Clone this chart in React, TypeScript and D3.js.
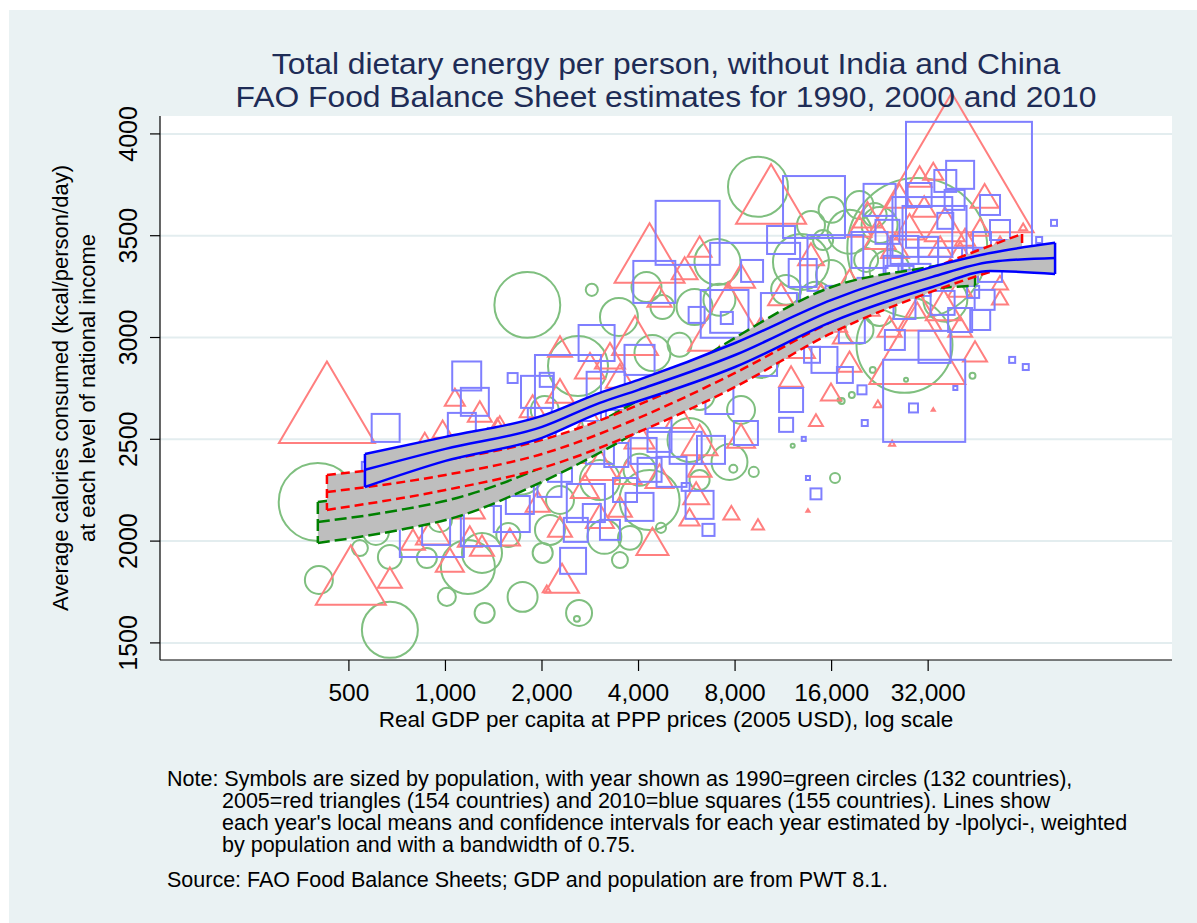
import React from "react";
import * as d3 from "d3";

// ---- data: [GDP per capita (2005 USD, PPP), kcal/person/day, population (millions)] ----
const circles1990: [number, number, number][] = [
  [29600, 3440, 253], [27000, 2964, 119], [400, 2192, 79], [671, 1564, 40.5], [403, 1809, 10.1],
  [607, 2045, 8.7], [671, 1922, 7.4], [1010, 1726, 4.2], [1325, 1647, 5.2], [1740, 1726, 11.6],
  [1175, 1873, 37.7], [875, 1917, 5.2], [1300, 1942, 20.7], [2010, 1942, 5.2], [1800, 3160, 56],
  [2590, 2860, 46.5], [9430, 3740, 46.5], [2860, 3234, 1.9], [3475, 3101, 18.6], [4235, 3248, 11.6],
  [4750, 3150, 7.4], [5980, 3150, 16.7], [7050, 3371, 27.3], [4420, 2924, 16.7], [7685, 2389, 16.7],
  [9150, 2340, 1.3], [7900, 2355, 0.83], [4330, 2202, 46.5], [3130, 2021, 14.9], [3760, 2016, 7.4],
  [4700, 2065, 1.3], [2610, 1647, 8.7], [2570, 1618, 0.46], [2118, 2055, 11.6], [16000, 3627, 8.7],
  [19550, 3651, 10.1], [18200, 3519, 25], [21800, 3602, 7.4], [15050, 3479, 5.2], [12840, 3371, 40.5],
  [11540, 3234, 11.6], [15930, 3307, 11.6], [20500, 3381, 7.4], [16940, 2693, 0.21], [18500, 2718, 0.46],
  [21500, 2841, 0.46], [27300, 2792, 0.21], [44000, 2812, 0.46], [17200, 2688, 0.46], [12100, 2468, 0.21],
  [16400, 2310, 1.3], [1570, 2030, 7.4], [2276, 2202, 10.1], [3032, 2300, 20.7], [4029, 2350, 13.2],
  [5768, 2497, 25], [6200, 2718, 11.6], [8350, 2644, 10.1], [9640, 2890, 16.7], [11130, 3037, 11.6],
  [5370, 2964, 7.4], [1706, 2350, 32.3], [1191, 2300, 11.6], [2040, 2644, 10.1], [7150, 3185, 13.2],
  [3032, 2595, 16.7], [961, 2104, 7.4], [541, 1966, 3.3], [24260, 3332, 20.7], [36200, 3185, 25],
  [22580, 3135, 13.2], [19550, 3037, 10.1], [14300, 3185, 16.7], [6200, 2300, 5.2], [3500, 1907, 3.3],
  [13800, 3553, 10.1], [22580, 3553, 16.7],
];

const triangles2000: [number, number, number][] = [
  [427, 2615, 96], [507, 1785, 51], [671, 1804, 6], [37900, 3745, 280], [10360, 3656, 51],
  [4330, 3366, 51], [29600, 2905, 96], [4420, 1976, 10.7], [2310, 1794, 12], [6050, 2217, 7],
  [7790, 2128, 2.7], [9430, 2074, 1.5], [14300, 2585, 2], [22300, 2669, 0.67], [24700, 2477, 0.37],
  [33200, 2644, 0.1], [13500, 2148, 0.1], [63300, 3538, 0.67], [980, 2536, 4.2], [862, 2487, 2.7],
  [1870, 2644, 7], [1450, 2575, 1.04], [914, 2030, 12], [792, 1991, 6], [1032, 1888, 8.2],
  [1300, 1962, 6], [1940, 2178, 6], [2070, 1760, 0.67], [3700, 2320, 8.2], [7610, 3047, 67],
  [3900, 2978, 22], [5570, 3322, 7], [20700, 3582, 9.4], [30100, 3774, 6], [33200, 3803, 4.2],
  [28000, 3523, 9.4], [11130, 3194, 7], [3258, 2890, 9.4], [13800, 3391, 7], [17350, 2998, 4.2],
  [30100, 3096, 20], [35800, 3135, 13.5], [24260, 3037, 6], [9640, 3013, 10.7], [12840, 2939, 8.2],
  [18200, 2865, 6], [7150, 2890, 6], [2822, 2841, 9.4], [2276, 2939, 6], [1477, 2546, 6],
  [1706, 2423, 9.4], [2445, 2423, 8.2], [3032, 2350, 13.5], [4029, 2497, 9.4], [5370, 2595, 8.2],
  [6200, 2472, 13.5], [8350, 2497, 8.2], [3032, 2104, 8.2], [2276, 2055, 6], [1191, 2153, 9.4],
  [1477, 2251, 4.2], [721, 2104, 4.2], [541, 2202, 2.7], [46470, 3528, 4.2], [53600, 3430, 6],
  [40260, 3381, 10.7], [48000, 3676, 8.2], [26060, 3676, 8.2], [22580, 3479, 10.7], [18200, 3234, 13.5],
  [14830, 3185, 8.2], [6200, 3430, 6], [8350, 3283, 8.2], [4650, 3185, 6], [11960, 2792, 6],
  [15930, 2718, 4.2], [4650, 2767, 6], [3500, 2693, 6], [40260, 3037, 6], [53600, 3185, 2.7],
  [44800, 2915, 6], [36100, 3528, 16.7],
  [1070, 2693, 4.2], [1280, 2620, 6], [2276, 2718, 8.2], [2822, 2595, 6], [3500, 2792, 8.2],
  [4330, 2644, 7], [1969, 2350, 6], [2720, 2251, 8.2], [3500, 2153, 6], [4650, 2300, 8.2],
  [6200, 2350, 6], [5770, 2104, 4.2], [1588, 2006, 4.2], [1191, 2006, 6], [894, 2153, 4.2],
  [1070, 2251, 6], [19550, 3528, 6], [25200, 3430, 8.2], [31100, 3627, 6], [34880, 3430, 6],
  [41700, 3479, 4.2], [27000, 3258, 6], [21000, 3135, 4.2], [16400, 3062, 6], [13800, 3135, 4.2],
  [40260, 3234, 6], [53600, 3258, 2.7],
];

const squares2010: [number, number, number][] = [
  [42900, 3750, 306], [31100, 2689, 130], [14100, 3641, 74], [5690, 3514, 79], [1165, 2811, 16.2],
  [651, 2556, 15.1], [1620, 2801, 1.9], [1235, 2684, 15.1], [1930, 2733, 19.8], [2410, 2752, 84],
  [907, 2079, 79], [935, 2050, 15.1], [1290, 2074, 31], [1610, 2133, 25], [2500, 1903, 13],
  [2550, 2055, 11.1], [4029, 2168, 15.1], [6610, 2055, 2.8], [2860, 2138, 6.25], [5070, 2340, 17.4],
  [8650, 2531, 11.1], [11540, 2571, 3.8], [28800, 2654, 1.56], [19900, 2743, 1.56], [20300, 2580, 0.69],
  [14300, 2232, 2.3], [13500, 2310, 0.31], [13100, 2502, 0.31], [38900, 2752, 0.31], [58500, 2890, 0.69],
  [64500, 2855, 0.69], [79000, 3563, 0.69], [33500, 2954, 19.8], [36200, 3769, 9.3], [30700, 3543, 69],
  [9240, 3244, 156], [4480, 3273, 34], [9040, 3327, 9.3], [6070, 3111, 4.9], [7540, 3096, 2.8],
  [7420, 3116, 44], [2960, 2973, 25], [3160, 2738, 28], [10960, 3130, 25], [2070, 2792, 3.8],
  [16440, 3366, 60], [15200, 2890, 13], [18500, 3037, 13], [27000, 3145, 9.3], [33500, 3489, 79],
  [36200, 3573, 4.9], [32000, 3445, 7.7], [47100, 3474, 6.25], [23900, 3519, 11.1], [24800, 3357, 6.25],
  [13000, 3317, 15.1], [35500, 3170, 11.1], [44200, 3224, 2.8], [13900, 2915, 4.9], [1125, 2561, 15.1],
  [4150, 2443, 13], [5610, 2458, 19.8], [6730, 2448, 15.1], [2740, 2187, 28], [2110, 2276, 11.1],
  [5610, 2266, 1.2], [38700, 3676, 7.7], [40260, 3799, 15.1], [26060, 3283, 15.1], [21000, 3430, 25],
  [49900, 3332, 11.1], [53600, 3528, 7.7], [19550, 3185, 7.7], [22580, 3676, 19.8], [11130, 3479, 15.1],
  [9640, 2890, 19.8], [6200, 2792, 15.1], [4029, 2890, 17.4], [3500, 2595, 15.1], [4650, 2595, 11.1],
  [7150, 2693, 15.1], [11960, 2693, 11.1], [17600, 2816, 4.9], [46500, 3086, 7.7], [71000, 3479, 0.69],
  [1588, 2374, 15.1], [1969, 2497, 19.8], [1032, 2399, 11.1], [832, 2202, 7.7], [581, 2350, 4.9],
  [3410, 2423, 11.1], [6200, 2178, 15.1], [3630, 2251, 11.1],
  [27000, 3430, 15.1], [37460, 3381, 11.1], [29000, 3283, 19.8], [21000, 3234, 11.1], [40260, 3086, 11.1],
  [25200, 2988, 7.7], [16940, 3185, 15.1], [48000, 3185, 7.7], [30100, 3700, 11.1], [49900, 3651, 7.7],
  [1477, 2497, 11.1], [1969, 2595, 11.1], [3032, 2448, 15.1], [4650, 2497, 11.1], [1706, 2202, 15.1],
  [2276, 2350, 11.1], [4330, 2350, 11.1], [3258, 2055, 7.7],
];

// ---- local polynomial fits with confidence bands ----
const fitGdp1990 = [400, 721, 1085, 2000, 4000, 7610, 16000, 32000, 44830];
const fitHi1990 = [2192, 2251, 2310, 2448, 2693, 2978, 3248, 3345, 3385];
const fitMean1990 = [2094, 2153, 2212, 2364, 2620, 2900, 3180, 3290, 3320];
const fitLo1990 = [1991, 2055, 2119, 2291, 2541, 2816, 3110, 3235, 3255];

const fitGdp2000 = [427, 1000, 2000, 4000, 8000, 16000, 32000, 62800];
const fitHi2000 = [2325, 2399, 2497, 2669, 2890, 3126, 3332, 3509];
const fitMean2000 = [2241, 2325, 2428, 2605, 2826, 3077, 3278, 3440];
const fitLo2000 = [2153, 2251, 2359, 2536, 2757, 3022, 3219, 3371];

const fitGdp2010 = [561, 1000, 2000, 3030, 4000, 8000, 16000, 33000, 50000, 79600];
const fitHi2010 = [2428, 2512, 2615, 2728, 2792, 2973, 3185, 3347, 3415, 3465];
const fitMean2010 = [2350, 2453, 2561, 2679, 2743, 2914, 3131, 3298, 3371, 3391];
const fitLo2010 = [2266, 2394, 2507, 2630, 2688, 2855, 3077, 3248, 3327, 3312];

const xTicks = [500, 1000, 2000, 4000, 8000, 16000, 32000];
const yTicks = [1500, 2000, 2500, 3000, 3500, 4000];

const titleLines = [
  "Total dietary energy per person, without India and China",
  "FAO Food Balance Sheet estimates for 1990, 2000 and 2010",
];
const yTitleLines = ["Average calories consumed (kcal/person/day)", "at each level of national income"];
const xTitle = "Real GDP per capita at PPP prices (2005 USD), log scale";
const noteLines = [
  "Note: Symbols are sized by population, with year shown as 1990=green circles (132 countries),",
  "2005=red triangles (154 countries) and 2010=blue squares (155 countries). Lines show",
  "each year's local means and confidence intervals for each year estimated by -lpolyci-, weighted",
  "by population and with a bandwidth of 0.75.",
];
const sourceLine = "Source: FAO Food Balance Sheets; GDP and population are from PWT 8.1.";

const FONT = "'Liberation Sans', Arial, Helvetica, sans-serif";
const GREEN = "#7fbf7f";
const RED = "#ff7f7f";
const BLUE = "#7f7fff";
const BAND_FILL = "#bebebe";

const plot = { left: 160, right: 1172, top: 116, bottom: 660 };

export default function App() {
  const x = d3.scaleLog().domain([128.8, 184300]).range([plot.left, plot.right]);
  const y = d3.scaleLinear().domain([1416, 4088]).range([plot.bottom, plot.top]);
  const circleR = (p: number) => 4.4 * Math.sqrt(p);
  const squareHalf = (p: number) => 3.6 * Math.sqrt(p);
  const triHalf = (p: number) => 4.9 * Math.sqrt(p);
  const fmt = d3.format(",");

  const band = (gdp: number[], lo: number[], hi: number[]) =>
    d3
      .area<number>()
      .x((_, i) => x(gdp[i]))
      .y0((_, i) => y(lo[i]))
      .y1((_, i) => y(hi[i]))
      .curve(d3.curveMonotoneX)(gdp) as string;

  const curve = (gdp: number[], v: number[]) =>
    d3.line().curve(d3.curveMonotoneX)(gdp.map((g, i) => [x(g), y(v[i])] as [number, number])) as string;

  const bandOutline = (gdp: number[], lo: number[], hi: number[]) => {
    const n = gdp.length - 1;
    const ends =
      `M${x(gdp[0])},${y(hi[0])}L${x(gdp[0])},${y(lo[0])}` +
      `M${x(gdp[n])},${y(hi[n])}L${x(gdp[n])},${y(lo[n])}`;
    return curve(gdp, hi) + curve(gdp, lo) + ends;
  };

  const fits = [
    { gdp: fitGdp1990, lo: fitLo1990, hi: fitHi1990, mean: fitMean1990, color: "#008000", dash: "12,5" },
    { gdp: fitGdp2000, lo: fitLo2000, hi: fitHi2000, mean: fitMean2000, color: "#ff0000", dash: "9,5" },
    { gdp: fitGdp2010, lo: fitLo2010, hi: fitHi2010, mean: fitMean2010, color: "#0000ff", dash: undefined },
  ];

  const plotCx = (plot.left + plot.right) / 2;
  const plotCy = (plot.top + plot.bottom) / 2;

  return (
    <div style={{ position: "absolute", left: 0, top: 0 }}>
      <svg width={1197} height={923} style={{ display: "block" }} fontFamily={FONT}>
        <rect x={0} y={0} width={1197} height={923} fill="#ffffff" />
        <rect x={9} y={10} width={1188} height={913} fill="#eaf2f3" />
        <rect
          x={plot.left}
          y={plot.top}
          width={plot.right - plot.left}
          height={plot.bottom - plot.top}
          fill="#ffffff"
        />

        {/* gridlines */}
        {yTicks.map((t) => (
          <line key={"g" + t} x1={plot.left} x2={plot.right} y1={y(t)} y2={y(t)} stroke="#e3edef" strokeWidth={2} />
        ))}

        {/* scatter: 1990 circles, 2000 triangles, 2010 squares */}
        <g fill="none" strokeWidth={2}>
          {circles1990.map(([g, k, p], i) => (
            <circle key={"c" + i} cx={x(g)} cy={y(k)} r={circleR(p)} stroke={GREEN} />
          ))}
          {triangles2000.map(([g, k, p], i) => {
            const cx = x(g);
            const cy = y(k);
            const hb = triHalf(p);
            const h = 1.7 * hb;
            const d = `M${cx},${cy - (2 * h) / 3}L${cx + hb},${cy + h / 3}L${cx - hb},${cy + h / 3}Z`;
            return <path key={"t" + i} d={d} stroke={RED} strokeLinejoin="miter" />;
          })}
          {squares2010.map(([g, k, p], i) => {
            const s = squareHalf(p);
            return (
              <rect key={"s" + i} x={x(g) - s} y={y(k) - s} width={2 * s} height={2 * s} stroke={BLUE} />
            );
          })}
        </g>

        {/* lpolyci bands */}
        {fits.map((f, i) => (
          <g key={"f" + i}>
            <path d={band(f.gdp, f.lo, f.hi)} fill={BAND_FILL} stroke="none" />
            <path d={bandOutline(f.gdp, f.lo, f.hi)} fill="none" stroke={f.color} strokeWidth={2.5} strokeDasharray={f.dash} />
            <path d={curve(f.gdp, f.mean)} fill="none" stroke={f.color} strokeWidth={2.5} strokeDasharray={f.dash} />
          </g>
        ))}

        {/* axes */}
        <line x1={plot.left} x2={plot.left} y1={plot.top} y2={plot.bottom} stroke="#000" strokeWidth={1.2} />
        <line x1={plot.left} x2={plot.right} y1={plot.bottom} y2={plot.bottom} stroke="#000" strokeWidth={1.2} />
        {yTicks.map((t) => (
          <g key={"y" + t}>
            <line x1={plot.left - 10} x2={plot.left} y1={y(t)} y2={y(t)} stroke="#000" strokeWidth={1.2} />
            <text
              transform={`translate(137,${y(t)}) rotate(-90)`}
              textAnchor="middle"
              fontSize={25}
              fill="#000"
            >
              {t}
            </text>
          </g>
        ))}
        {xTicks.map((t) => (
          <g key={"x" + t}>
            <line x1={x(t)} x2={x(t)} y1={plot.bottom} y2={plot.bottom + 11} stroke="#000" strokeWidth={1.2} />
            <text x={x(t)} y={701} textAnchor="middle" fontSize={24.5} fill="#000">
              {fmt(t)}
            </text>
          </g>
        ))}

        {/* titles (slightly widened so the two lines keep their spacing) */}
        {titleLines.map((s, i) => (
          <text
            key={"tt" + i}
            transform={`translate(666,${74 + i * 33}) scale(1.05,1)`}
            textAnchor="middle"
            fontSize={30.3}
            fill="#1e2c56"
          >
            {s}
          </text>
        ))}
        <text x={plotCx} y={727} textAnchor="middle" fontSize={22.5} fill="#000">
          {xTitle}
        </text>
        {yTitleLines.map((s, i) => (
          <text
            key={"yt" + i}
            transform={`translate(${68 + i * 27},${plotCy}) rotate(-90)`}
            textAnchor="middle"
            fontSize={22}
            fill="#000"
          >
            {s}
          </text>
        ))}

        {/* note and source */}
        {noteLines.map((s, i) => (
          <text key={"n" + i} x={i === 0 ? 167 : 222} y={786 + i * 22} fontSize={21.5} fill="#000">
            {s}
          </text>
        ))}
        <text x={167} y={887} fontSize={21.5} fill="#000">
          {sourceLine}
        </text>
      </svg>
    </div>
  );
}
